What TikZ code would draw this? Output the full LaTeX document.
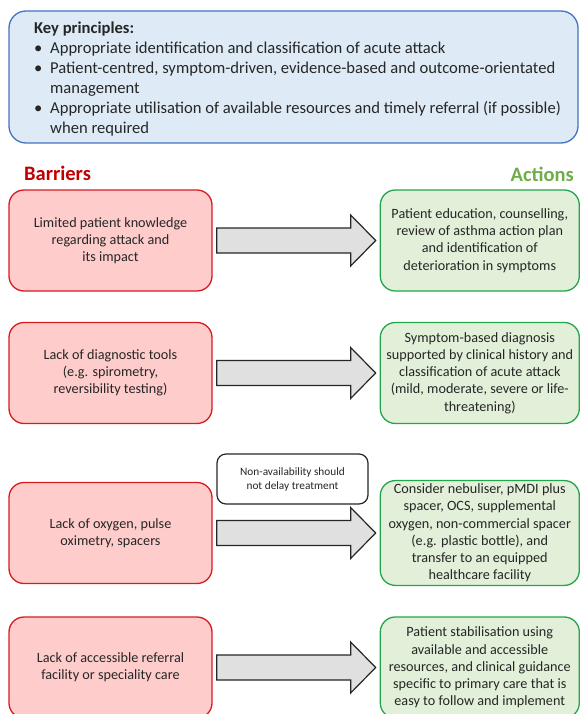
\documentclass[tikz,border=0pt]{standalone}
\usepackage{tikz}
\usepackage{fontspec}
\setmainfont{Carlito}
\usetikzlibrary{calc}
\usetikzlibrary{positioning}
\usepackage{xcolor}
\definecolor{barline}{HTML}{D81B21}
\definecolor{barfill}{HTML}{FFCCCC}
\definecolor{actline}{HTML}{22A64B}
\definecolor{actfill}{HTML}{E2F0D9}
\definecolor{keyline}{HTML}{4472C4}
\definecolor{keyfill}{HTML}{DEEBF7}
\definecolor{bartitle}{HTML}{C00000}
\definecolor{acttitle}{HTML}{70AD47}
\begin{document}
\begin{tikzpicture}[x=1pt, y=-1pt, every node/.style={text=black!85},
boxtext/.style={align=center, font=\fontsize{14.2}{17.2}\selectfont},
barbox/.style={boxtext, draw=barline, fill=barfill, line width=1.3pt, rounded corners=15pt,
  minimum width=203pt, minimum height=101pt},
actbox/.style={boxtext, draw=actline, fill=actfill, line width=1.3pt, rounded corners=15pt,
  minimum width=199pt, minimum height=101pt},
bigarr/.style={draw=black!85, fill=black!12, line width=1.2pt, line join=miter}]
\useasboundingbox (0,0) rectangle (579,714);
\node[draw=keyline, fill=keyfill, line width=1.3pt, rounded corners=17pt, minimum width=569pt,
  minimum height=132pt] (key) at (293.5,77) {};
\node[anchor=north west, align=left, inner sep=0pt, font=\fontsize{16.6}{20}\selectfont] (keytext) at (34,22)
  {\textbf{Key principles:}\\
   \makebox[16pt][l]{\textbullet}Appropriate identification and classification of acute attack\\
   \makebox[16pt][l]{\textbullet}Patient-centred, symptom-driven, evidence-based and outcome-orientated\\
   \hspace*{16pt}management\\
   \makebox[16pt][l]{\textbullet}Appropriate utilisation of available resources and timely referral (if possible)\\
   \hspace*{16pt}when required};
\node[anchor=base west, inner sep=0pt, text=bartitle, font=\fontsize{20.5}{24}\selectfont\bfseries] (bartxt) at (24,181) {Barriers};
\node[anchor=base east, inner sep=0pt, text=acttitle, font=\fontsize{20.5}{24}\selectfont\bfseries] (acttxt) at (574,182) {Actions};
\node[barbox] (bar1) at (110.5,240.5) {Limited patient knowledge\\regarding attack and\\its impact};
\node[barbox] (bar2) at (110.5,373) {Lack of diagnostic tools\\(e.g. spirometry,\\reversibility testing)};
\node[barbox] (bar3) at (110.5,533) {Lack of oxygen, pulse\\oximetry, spacers};
\node[barbox] (bar4) at (110.5,667.5) {Lack of accessible referral\\facility or speciality care};
\node[actbox, right=167pt of bar1] (act1) {Patient education, counselling,\\review of asthma action plan\\and identification of\\deterioration in symptoms};
\node[actbox, right=167pt of bar2] (act2) {Symptom-based diagnosis\\supported by clinical history and\\classification of acute attack\\(mild, moderate, severe or life-\\threatening)};
\node[actbox, right=167pt of bar3] (act3) {Consider nebuliser, pMDI plus\\spacer, OCS, supplemental\\oxygen, non-commercial spacer\\(e.g. plastic bottle), and\\transfer to an equipped\\healthcare facility};
\node[actbox, right=167pt of bar4] (act4) {Patient stabilisation using\\available and accessible\\resources, and clinical guidance\\specific to primary care that is\\easy to follow and implement};
\node[draw=black!85, fill=white, line width=1.2pt, rounded corners=9pt, minimum width=151pt, minimum height=50pt,
  align=center, font=\fontsize{11.3}{14}\selectfont] (note) at (292.5,479) {Non-availability should\\not delay treatment};
\draw[bigarr] ($(bar1.east)+(4,-12.5)$) -- ($(act1.west)+(-29,-12.5)$) -- ($(act1.west)+(-29,-25.5)$) -- ($(act1.west)+(-4,0)$)
  -- ($(act1.west)+(-29,25.5)$) -- ($(act1.west)+(-29,12.5)$) -- ($(bar1.east)+(4,12.5)$) -- cycle;
\draw[bigarr] ($(bar2.east)+(4,-12.5)$) -- ($(act2.west)+(-29,-12.5)$) -- ($(act2.west)+(-29,-25.5)$) -- ($(act2.west)+(-4,0)$)
  -- ($(act2.west)+(-29,25.5)$) -- ($(act2.west)+(-29,12.5)$) -- ($(bar2.east)+(4,12.5)$) -- cycle;
\draw[bigarr] ($(bar3.east)+(4,-12.5)$) -- ($(act3.west)+(-29,-12.5)$) -- ($(act3.west)+(-29,-25.5)$) -- ($(act3.west)+(-4,0)$)
  -- ($(act3.west)+(-29,25.5)$) -- ($(act3.west)+(-29,12.5)$) -- ($(bar3.east)+(4,12.5)$) -- cycle;
\draw[bigarr] ($(bar4.east)+(4,-12.5)$) -- ($(act4.west)+(-29,-12.5)$) -- ($(act4.west)+(-29,-25.5)$) -- ($(act4.west)+(-4,0)$)
  -- ($(act4.west)+(-29,25.5)$) -- ($(act4.west)+(-29,12.5)$) -- ($(bar4.east)+(4,12.5)$) -- cycle;
\end{tikzpicture}
\end{document}
